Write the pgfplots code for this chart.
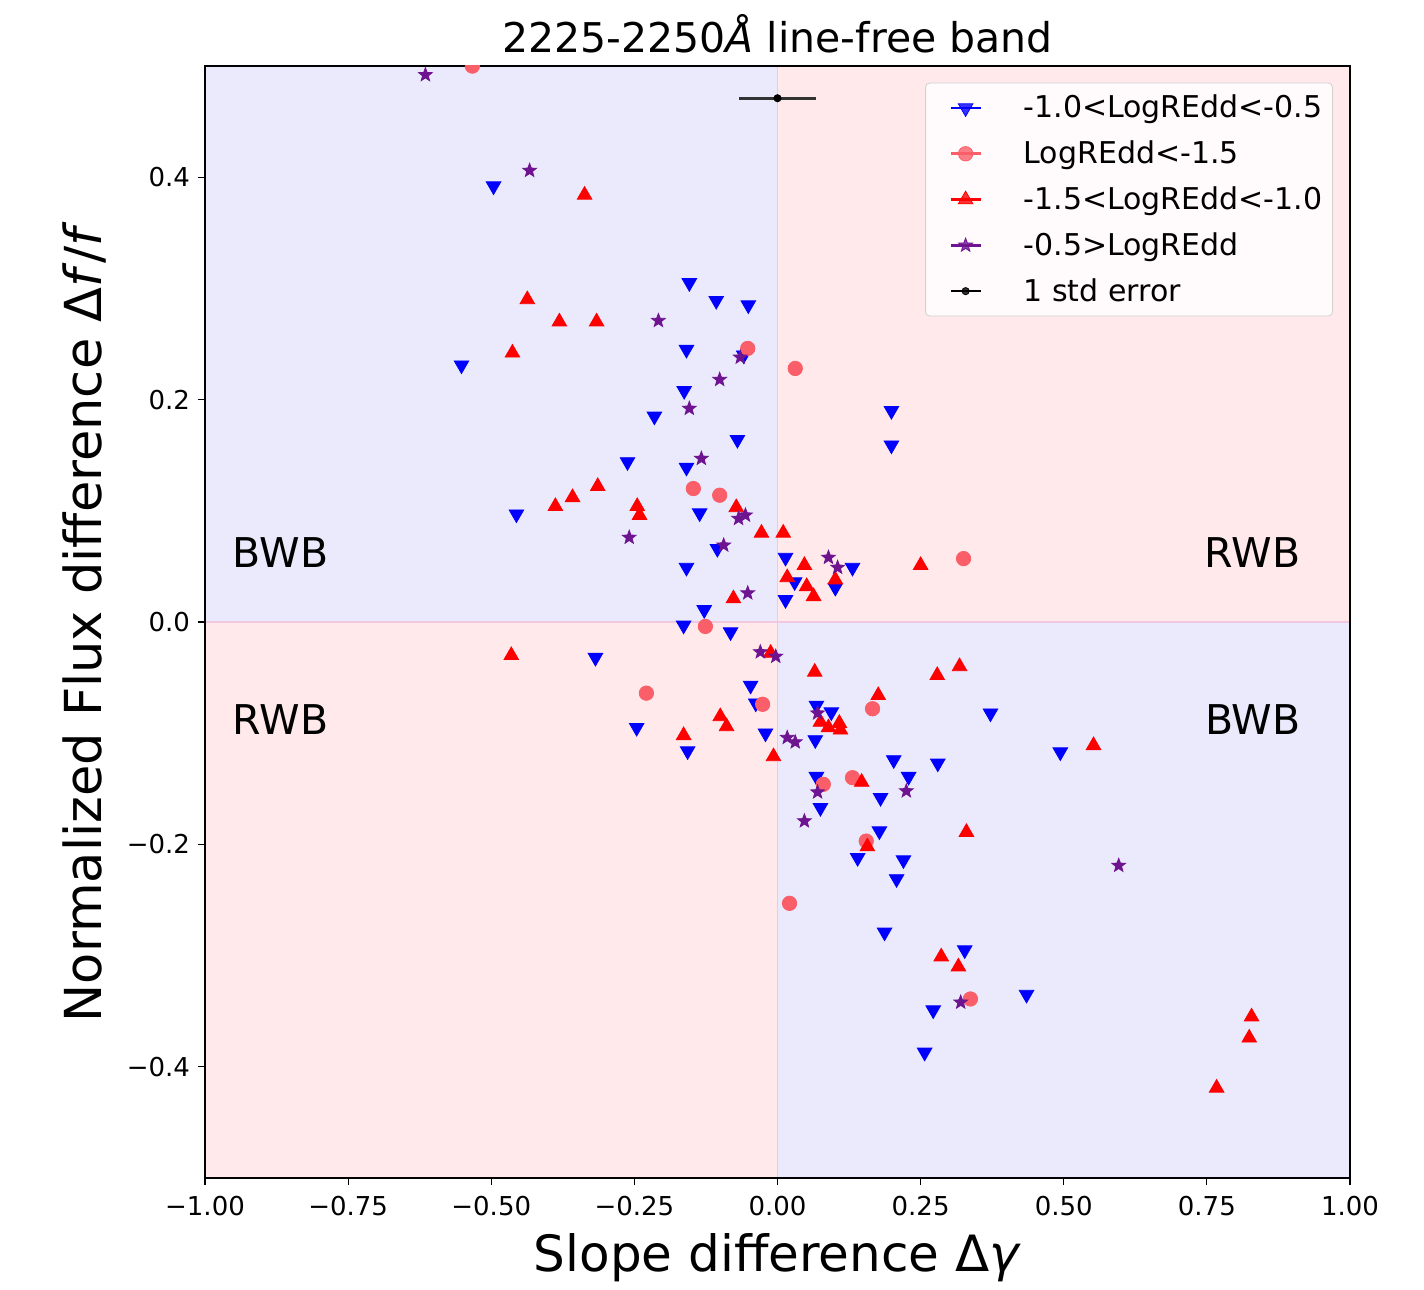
\documentclass[border=0pt]{standalone}
\usepackage{fontspec}
\setmainfont{DejaVu Sans}
\usepackage{pgfplots}
\pgfplotsset{compat=1.18}
\definecolor{qblue}{RGB}{234,234,252}
\definecolor{qpink}{RGB}{255,233,235}
\definecolor{qline}{RGB}{242,200,225}
\definecolor{cpink}{RGB}{250,95,105}
\definecolor{cpurple}{RGB}{110,20,145}
\pgfdeclareplotmark{fstar}{%
 \pgfpathmoveto{\pgfpointpolar{90}{\pgfplotmarksize}}%
 \pgfpathlineto{\pgfpointpolar{126}{0.42\pgfplotmarksize}}%
 \pgfpathlineto{\pgfpointpolar{162}{\pgfplotmarksize}}%
 \pgfpathlineto{\pgfpointpolar{198}{0.42\pgfplotmarksize}}%
 \pgfpathlineto{\pgfpointpolar{234}{\pgfplotmarksize}}%
 \pgfpathlineto{\pgfpointpolar{270}{0.42\pgfplotmarksize}}%
 \pgfpathlineto{\pgfpointpolar{306}{\pgfplotmarksize}}%
 \pgfpathlineto{\pgfpointpolar{342}{0.42\pgfplotmarksize}}%
 \pgfpathlineto{\pgfpointpolar{18}{\pgfplotmarksize}}%
 \pgfpathlineto{\pgfpointpolar{54}{0.42\pgfplotmarksize}}%
 \pgfpathclose
 \pgfusepathqfillstroke
}
\begin{document}
\begin{tikzpicture}
\begin{axis}[
  at={(0,0)}, anchor=south west,
  scale only axis, width=572.5pt, height=556pt,
  xmin=-1, xmax=1, ymin=-0.5, ymax=0.5,
  set layers, clip marker paths=true,
  axis line style={black, line width=0.6pt},
  tick pos=left, tick align=outside,
  major tick length=3.5pt,
  every tick/.style={black, line width=0.6pt},
  xtick={-1,-0.75,-0.5,-0.25,0,0.25,0.5,0.75,1},
  xticklabels={−1.00,−0.75,−0.50,−0.25,0.00,0.25,0.50,0.75,1.00},
  ytick={-0.4,-0.2,0,0.2,0.4},
  yticklabels={−0.4,−0.2,0.0,0.2,0.4},
  ticklabel style={font=\fontsize{13}{15}\selectfont},
  xticklabel style={yshift=-2pt},
  yticklabel style={xshift=-0.5pt},
  title={2225-2250\textit{Å} line-free band},
  title style={font=\fontsize{20.5}{24}\selectfont, at={(rel axis cs:0.5,1)}, anchor=base, yshift=0.5pt},
  xlabel={Slope difference Δ\textit{γ}},
  xlabel style={font=\fontsize{25}{29}\selectfont, at={(rel axis cs:0.5,-0.0845)}, anchor=base},
  ylabel={Normalized Flux difference Δ\textit{f}/\textit{f}},
  ylabel style={font=\fontsize{25.5}{29}\selectfont, at={(rel axis cs:-0.090,0.5)}, anchor=base},
  legend style={at={(rel axis cs:0.985,0.985)}, anchor=north east,
    draw=black!18, rounded corners=2pt, fill=white, fill opacity=0.8, text opacity=1,
    font=\fontsize{15}{18}\selectfont, row sep=6pt, inner xsep=3pt, inner ysep=4pt},
  legend cell align=left,
  legend image code/.code={%
    \draw[#1,mark=none,line width=1.3pt] (9.5pt,0pt) -- (24.5pt,0pt);
    \draw[#1] plot coordinates {(17pt,0pt)};
    \path[draw=none] (0pt,0pt) -- (44pt,0pt);},
]
\begin{pgfonlayer}{axis background}
\fill[qblue] (axis cs:-1,0) rectangle (axis cs:0,0.5);
\fill[qpink] (axis cs:0,0) rectangle (axis cs:1,0.5);
\fill[qpink] (axis cs:-1,-0.5) rectangle (axis cs:0,0);
\fill[qblue] (axis cs:0,-0.5) rectangle (axis cs:1,0);
\draw[qline, line width=0.8pt] (axis cs:0,-0.5) -- (axis cs:0,0.5);
\draw[qline, line width=0.8pt] (axis cs:-1,0) -- (axis cs:1,0);
\end{pgfonlayer}

\addplot[only marks, color=blue, mark=triangle*, mark size=4.2pt, mark options={rotate=180, fill=blue}]
coordinates {
(-0.496,0.392) (-0.552,0.231) (-0.154,0.305) (-0.107,0.289) (-0.051,0.285)
(-0.159,0.245) (-0.059,0.240) (-0.163,0.208) (-0.215,0.185) (-0.070,0.164)
(0.199,0.190) (0.199,0.159) (-0.262,0.144) (-0.159,0.139) (-0.456,0.097)
(-0.136,0.098) (-0.105,0.066) (-0.159,0.049) (0.014,0.058) (0.030,0.036)
(0.014,0.020) (0.101,0.031) (0.131,0.049) (-0.128,0.011) (-0.164,-0.003)
(-0.082,-0.009) (-0.318,-0.032) (-0.047,-0.057) (-0.038,-0.073) (-0.021,-0.100)
(-0.246,-0.095) (-0.157,-0.116) (0.068,-0.075) (0.094,-0.081) (0.066,-0.106)
(0.372,-0.082) (0.494,-0.117) (0.203,-0.124) (0.280,-0.127) (0.229,-0.139)
(0.068,-0.139) (0.180,-0.158) (0.075,-0.167) (0.178,-0.188) (0.140,-0.212)
(0.220,-0.214) (0.208,-0.231) (0.187,-0.279) (0.327,-0.295) (0.435,-0.335)
(0.272,-0.349) (0.257,-0.387)
};
\addlegendentry{-1.0<LogREdd<-0.5}

\addplot[only marks, color=cpink, mark=*, mark size=3.6pt, mark options={fill=cpink}]
coordinates {
(-0.533,0.4999) (-0.052,0.246) (0.031,0.228) (-0.147,0.120) (-0.101,0.114)
(0.325,0.057) (-0.126,-0.004) (-0.229,-0.064) (-0.026,-0.074) (0.166,-0.078)
(0.080,-0.146) (0.131,-0.140) (0.155,-0.197) (0.021,-0.253) (0.337,-0.339)
};
\addlegendentry{LogREdd<-1.5}

\addplot[only marks, color=red, mark=triangle*, mark size=4.2pt, mark options={fill=red}]
coordinates {
(-0.337,0.384) (-0.437,0.290) (-0.381,0.270) (-0.316,0.270) (-0.463,0.242)
(-0.314,0.122) (-0.358,0.112) (-0.388,0.104) (-0.245,0.104) (-0.241,0.096)
(-0.072,0.103) (-0.028,0.080) (0.010,0.080) (0.047,0.051) (0.017,0.040)
(0.051,0.032) (0.063,0.023) (0.101,0.038) (0.250,0.051) (-0.077,0.021)
(-0.012,-0.028) (0.065,-0.045) (0.279,-0.048) (0.318,-0.040) (0.176,-0.066)
(-0.100,-0.085) (-0.089,-0.094) (-0.164,-0.102) (0.075,-0.090) (0.089,-0.095)
(0.108,-0.091) (0.110,-0.097) (-0.007,-0.121) (0.147,-0.144) (-0.465,-0.030)
(0.330,-0.189) (0.157,-0.202) (0.552,-0.111) (0.286,-0.301) (0.316,-0.310)
(0.828,-0.355) (0.824,-0.374) (0.767,-0.419)
};
\addlegendentry{-1.5<LogREdd<-1.0}

\addplot[only marks, color=cpurple, mark=fstar, mark size=3.6pt, mark options={fill=cpurple}]
coordinates {
(-0.615,0.492) (-0.433,0.406) (-0.208,0.271) (-0.065,0.238) (-0.101,0.218)
(-0.154,0.192) (-0.133,0.147) (-0.259,0.076) (-0.068,0.093) (-0.056,0.096)
(-0.094,0.069) (-0.052,0.026) (0.089,0.058) (0.105,0.049) (-0.030,-0.027)
(-0.003,-0.031) (0.017,-0.104) (0.031,-0.108) (0.070,-0.082) (0.070,-0.153)
(0.047,-0.179) (0.225,-0.152) (0.596,-0.219) (0.320,-0.342)
};
\addlegendentry{-0.5>LogREdd}

\addplot[only marks, color=black, mark=*, mark size=1.8pt,
  error bars/.cd, x dir=both, x explicit, error mark=none,
  error bar style={line width=1.5pt, black!80}]
coordinates {(0,0.471) +- (0.067,0)};
\addlegendentry{1 std error}

\node[font=\fontsize{20.5}{24}\selectfont, anchor=center] at (axis cs:-0.868,0.062) {BWB};
\node[font=\fontsize{20.5}{24}\selectfont, anchor=center] at (axis cs:0.830,0.062) {RWB};
\node[font=\fontsize{20.5}{24}\selectfont, anchor=center] at (axis cs:-0.868,-0.088) {RWB};
\node[font=\fontsize{20.5}{24}\selectfont, anchor=center] at (axis cs:0.830,-0.088) {BWB};
\end{axis}
\path (-102.5pt,-54pt) rectangle (609.5pt,589pt);
\end{tikzpicture}
\end{document}
